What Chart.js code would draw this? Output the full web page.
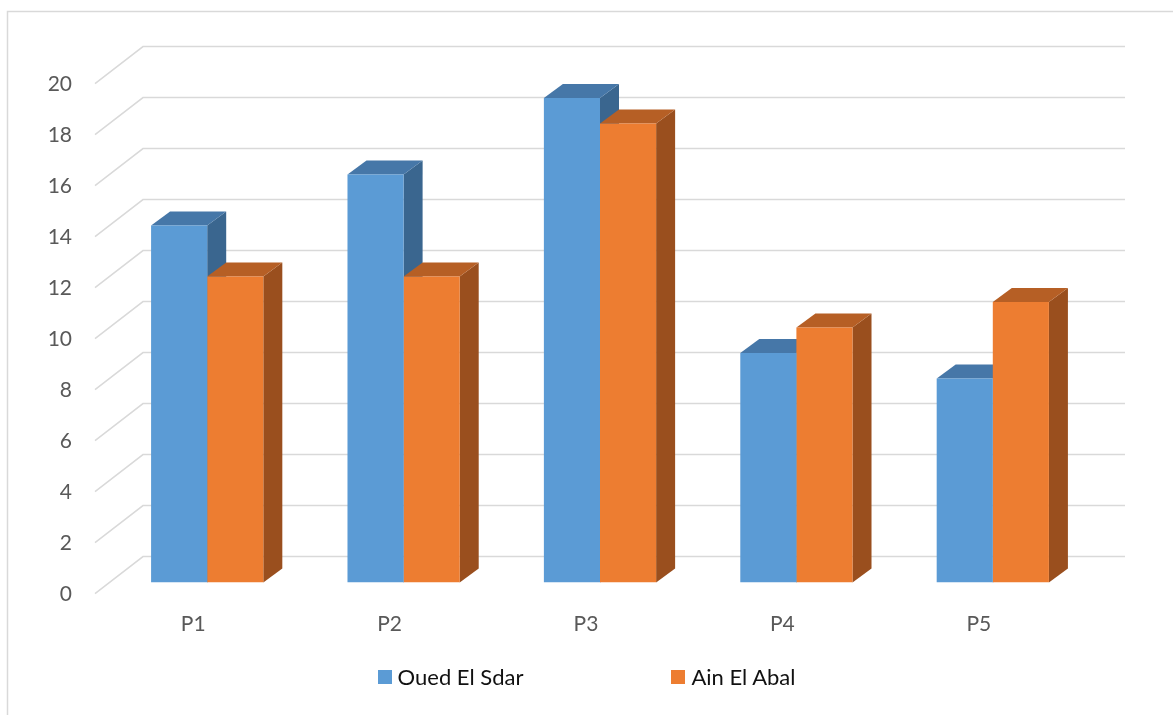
<!DOCTYPE html>
<html>
<head>
<meta charset="utf-8">
<script src="https://cdn.jsdelivr.net/npm/chart.js@4/dist/chart.umd.min.js"></script>
<style>
  html, body { margin: 0; padding: 0; background: #fff; }
  #wrap { position: relative; width: 1173px; height: 715px; }
  #legend {
    position: absolute; left: 0; top: 664px; width: 1173px;
    margin: 0; padding: 0; list-style: none;
    display: flex; justify-content: center; gap: 148px;
    font: 22px Lato, sans-serif; line-height: 26px; color: #111;
  }
  #legend li { display: flex; align-items: center; }
  #legend .box { width: 14px; height: 14px; margin-right: 6px; }
</style>
</head>
<body>
<div id="wrap">
  <canvas id="chart" width="1173" height="715"></canvas>
  <ul id="legend"></ul>
</div>
<script>
const categories = ["P1", "P2", "P3", "P4", "P5"];
const ouedElSdar = [14, 16, 19, 9, 8];
const ainElAbal = [12, 12, 18, 10, 11];
const yMin = 0;
const yMax = 20;
const yStep = 2;

// oblique offsets (px) relative to the bar front plane
const FRONT = { dx: -14, dy: 11 };   // where the axis labels sit
const WALL = { dx: 34, dy: -26 };    // back wall with the gridlines
const DEPTH = { dx: 19, dy: -14 };   // thickness of each bar

const poly = (ctx, pts, color) => {
  ctx.beginPath();
  ctx.moveTo(pts[0][0], pts[0][1]);
  pts.slice(1).forEach(p => ctx.lineTo(p[0], p[1]));
  ctx.closePath();
  ctx.fillStyle = color;
  ctx.fill();
};

const depth3d = {
  id: "depth3d",
  beforeDraw(chart) {
    const { ctx, chartArea: a, scales: { y } } = chart;
    ctx.save();
    ctx.strokeStyle = "#d9d9d9";
    ctx.lineWidth = 1.5;
    // outer frame
    ctx.beginPath();
    ctx.moveTo(7.5, 715);
    ctx.lineTo(7.5, 11.5);
    ctx.lineTo(1173, 11.5);
    ctx.stroke();
    // side wall diagonals + back wall gridlines
    y.ticks.forEach(t => {
      const py = y.getPixelForValue(t.value);
      ctx.beginPath();
      ctx.moveTo(a.left + FRONT.dx, py + FRONT.dy);
      ctx.lineTo(a.left + WALL.dx, py + WALL.dy);
      ctx.lineTo(a.right + WALL.dx, py + WALL.dy);
      ctx.stroke();
    });
    ctx.restore();
  },
  beforeDatasetsDraw(chart) {
    const ctx = chart.ctx;
    ctx.save();
    chart.data.datasets.forEach((ds, i) => {
      chart.getDatasetMeta(i).data.forEach(bar => {
        const { x, y, base, width } = bar.getProps(["x", "y", "base", "width"], true);
        const l = x - width / 2, r = x + width / 2;
        poly(ctx, [[r, y], [r + DEPTH.dx, y + DEPTH.dy], [r + DEPTH.dx, base + DEPTH.dy], [r, base]], ds.sideColor);
        poly(ctx, [[l, y], [r, y], [r + DEPTH.dx, y + DEPTH.dy], [l + DEPTH.dx, y + DEPTH.dy]], ds.topColor);
      });
    });
    ctx.restore();
  }
};

const htmlLegend = {
  id: "htmlLegend",
  afterUpdate(chart) {
    const ul = document.getElementById("legend");
    ul.innerHTML = "";
    chart.options.plugins.legend.labels.generateLabels(chart).forEach(item => {
      const li = document.createElement("li");
      const box = document.createElement("span");
      box.className = "box";
      box.style.background = item.fillStyle;
      li.appendChild(box);
      li.appendChild(document.createTextNode(item.text));
      ul.appendChild(li);
    });
  }
};

Chart.defaults.font.family = "Lato, sans-serif";

const config = {
  type: "bar",
  data: {
    labels: categories,
    datasets: [
      {
        label: "Oued El Sdar",
        data: ouedElSdar,
        backgroundColor: "#5b9bd5",
        topColor: "#4677a8",
        sideColor: "#3a668f",
        borderWidth: 0,
      },
      {
        label: "Ain El Abal",
        data: ainElAbal,
        backgroundColor: "#ed7d31",
        topColor: "#b65f25",
        sideColor: "#9a4f1e",
        borderWidth: 0,
      },
    ],
  },
  options: {
    responsive: false,
    animation: false,
    devicePixelRatio: 1,
    layout: { padding: { top: 72.6, right: 82, bottom: 72.4, left: 0 } },
    datasets: {
      bar: { categoryPercentage: 2 / 3.5, barPercentage: 1 },
    },
    scales: {
      x: {
        grid: { display: false, drawTicks: false },
        border: { display: false },
        ticks: { color: "#595959", font: { size: 21 }, padding: 29, labelOffset: -14 },
        afterFit: (scale) => { scale.height = 60; },
      },
      y: {
        min: yMin,
        max: yMax,
        grid: { display: false, drawTicks: false },
        border: { display: false },
        ticks: { stepSize: yStep, color: "#595959", font: { size: 21 }, padding: 37, labelOffset: 12 },
        afterFit: (scale) => { scale.width = 109; },
      },
    },
    plugins: {
      legend: { display: false },
      tooltip: { enabled: false },
    },
  },
  plugins: [depth3d, htmlLegend],
};

document.addEventListener("DOMContentLoaded", function () {
  new Chart(document.getElementById("chart"), config);
});
</script>
</body>
</html>
